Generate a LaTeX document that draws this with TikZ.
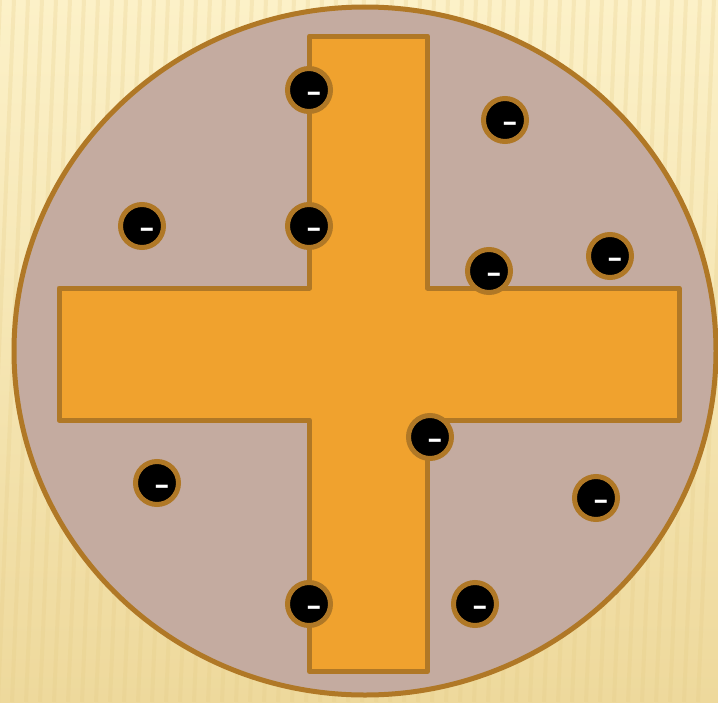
\documentclass[tikz,border=0pt]{standalone}
\usepackage{fontspec}
\setmainfont{Liberation Sans}
\usepackage{xcolor}
\usetikzlibrary{calc}

\definecolor{paperTop}{HTML}{FCF1C8}
\definecolor{paperBot}{HTML}{EED99C}
\definecolor{stripeC}{HTML}{E6CC86}
\definecolor{discFill}{HTML}{C4ABA0}
\definecolor{rimC}{HTML}{B07826}
\definecolor{crossFill}{HTML}{F0A22E}

\begin{document}
\begin{tikzpicture}[
    x=1pt,y=-1pt,
    disc/.style={fill=discFill,draw=rimC,line width=5pt},
    crossbar/.style={fill=crossFill,draw=rimC,line width=5pt,line join=round},
    electron/.style={circle,fill=black,draw=rimC,line width=5pt,minimum size=43pt,inner sep=0pt},
    minus/.style={text=white,font=\bfseries\fontsize{26}{26}\selectfont,inner sep=0pt,shift={(5,6)}}
]
\useasboundingbox (0,0) rectangle (718,702);
% paper background
\shade[top color=paperTop,bottom color=paperBot] (0,0) rectangle (718,702);
\foreach \s in {0,14,...,740}
  \draw[stripeC,opacity=0.25,line width=4pt] (\s,0) -- (\s-30,702);

% disc and cross
\draw[disc] (365,351) ellipse [x radius=351, y radius=344];
\draw[crossbar] (309.5,36) -- (427.5,36) -- (427.5,288) -- (679,288) -- (679,420)
  -- (427.5,420) -- (427.5,671.5) -- (309.5,671.5) -- (309.5,420) -- (59,420)
  -- (59,288) -- (309.5,288) -- cycle;

% electrons
\node[electron,label={[minus]center:\scalebox{1.8}[1]{-}}] (e1) at (309,90) {};
\node[electron,label={[minus]center:\scalebox{1.8}[1]{-}}] (e2) at (505,120) {};
\node[electron,label={[minus]center:\scalebox{1.8}[1]{-}}] (e3) at (142,226) {};
\node[electron,label={[minus]center:\scalebox{1.8}[1]{-}}] (e4) at (309,226) {};
\node[electron,label={[minus]center:\scalebox{1.8}[1]{-}}] (e5) at (489,271) {};
\node[electron,label={[minus]center:\scalebox{1.8}[1]{-}}] (e6) at (610,256) {};
\node[electron,label={[minus]center:\scalebox{1.8}[1]{-}}] (e7) at (430,437) {};
\node[electron,label={[minus]center:\scalebox{1.8}[1]{-}}] (e8) at (157,483) {};
\node[electron,label={[minus]center:\scalebox{1.8}[1]{-}}] (e9) at (596,498) {};
\node[electron,label={[minus]center:\scalebox{1.8}[1]{-}}] (e10) at (309,604) {};
\node[electron,label={[minus]center:\scalebox{1.8}[1]{-}}] (e11) at (475,604) {};
\end{tikzpicture}
\end{document}
